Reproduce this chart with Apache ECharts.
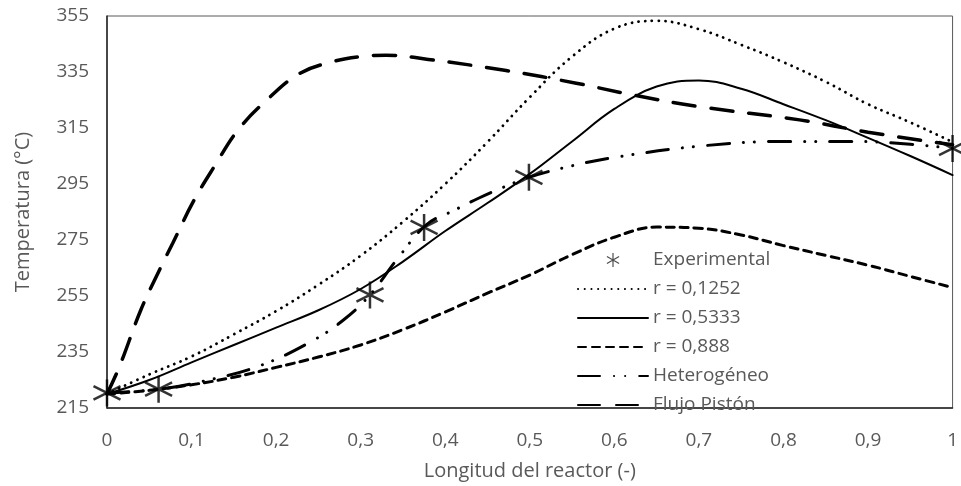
<!DOCTYPE html>
<html>
<head>
<meta charset="utf-8">
<script src="https://cdn.jsdelivr.net/npm/echarts@6/dist/echarts.min.js"></script>
<style>
  html, body { margin: 0; padding: 0; background: #fff; }
  #chart { width: 961px; height: 486px; }
</style>
</head>
<body>
<div id="chart"></div>
<script>
// datos
var expX = [0, 0.061, 0.311, 0.375, 0.499, 1];
var expT = [220.4, 221.7, 255.4, 279.5, 297.4, 307.7];

var gridX = [0, 0.05, 0.1, 0.15, 0.2, 0.25, 0.3, 0.35, 0.4, 0.45, 0.5, 0.55, 0.6, 0.65, 0.7, 0.75, 0.8, 0.85, 0.9, 0.95, 1];
var r1252T = [220, 227, 233.4, 241.3, 249.6, 259, 269.4, 281.5, 295, 310, 326, 340.5, 350.5, 353.3, 350.3, 344.7, 338.5, 331.5, 323.5, 317, 310];
var r5333T = [220, 225, 231.3, 237.5, 243.7, 249.9, 257.5, 267.3, 278.2, 288.2, 298.6, 310.2, 321.8, 329.8, 332, 329, 323.5, 317.8, 311.5, 305, 298.2];
var r888T = [220, 221.3, 223.3, 226, 229.5, 233.2, 237.5, 243, 249.3, 256, 262.5, 269.8, 276, 279.6, 279.2, 276.8, 273, 269.5, 266, 262, 258];

var heteroX = [0, 0.061, 0.12, 0.18, 0.24, 0.28, 0.311, 0.344, 0.378, 0.41, 0.44, 0.47, 0.499, 0.55, 0.6, 0.7, 0.8, 0.88, 0.95, 1];
var heteroT = [220.4, 221.7, 225, 230, 238.5, 246.5, 255.4, 268.5, 280.5, 285.5, 290, 294, 297.4, 301.5, 304.5, 308.5, 310.2, 310.2, 309.2, 307.7];

var pistonX = [0, 0.015, 0.04, 0.063, 0.078, 0.102, 0.128, 0.155, 0.189, 0.228, 0.267, 0.3, 0.33, 0.38, 0.472, 0.555, 0.622, 0.701, 0.819, 0.9, 1];
var pistonT = [220, 230, 250, 264.9, 274, 288.7, 301.8, 314.3, 325, 334.5, 338.7, 340.5, 341, 339.5, 335.5, 331, 326.8, 322.6, 317.9, 313.5, 309];

var xTicks = { min: 0, max: 1, interval: 0.1 };
var yTicks = { min: 215, max: 355, interval: 20 };

var starPath = 'path://M10,0L10,20M1.34,5L18.66,15M1.34,15L18.66,5';
var grey = '#595959';
var font = 'Open Sans';

function pairs(xs, ys) {
    var out = [];
    for (var i = 0; i < xs.length; i++) {
        out.push([xs[i], ys[i]]);
    }
    return out;
}

function lineSerie(name, xs, ys, width, dash) {
    return {
        name: name,
        type: 'line',
        data: pairs(xs, ys),
        smooth: 0.4,
        showSymbol: false,
        symbol: 'none',
        lineStyle: { color: '#000', width: width, type: dash, cap: 'round' },
        itemStyle: { color: '#000' },
        z: 2
    };
}

// la leyenda solo dibuja la linea, sin el circulo
function legendLine(name) {
    return { name: name, itemStyle: { opacity: 0 } };
}

var chart = echarts.init(document.getElementById('chart'));
chart.setOption({
    animation: false,
    backgroundColor: '#fff',
    grid: {
        left: 107, right: 8, top: 16, bottom: 78,
        show: true, borderColor: '#595959', borderWidth: 1
    },
    legend: {
        orient: 'vertical',
        left: 572, top: 245,
        itemWidth: 70, itemHeight: 14, itemGap: 9,
        textStyle: { color: grey, fontFamily: font, fontSize: 19, lineHeight: 20 },
        data: [
            { name: 'Experimental', icon: starPath, itemStyle: { color: 'none', borderColor: '#222', borderWidth: 1.2 } },
            legendLine('r = 0,1252'), legendLine('r = 0,5333'), legendLine('r = 0,888'),
            legendLine('Heterogéneo'), legendLine('Flujo Pistón')
        ]
    },
    xAxis: {
        type: 'value',
        min: xTicks.min, max: xTicks.max, interval: xTicks.interval,
        name: 'Longitud del reactor (-)',
        nameLocation: 'middle', nameGap: 53,
        nameTextStyle: { color: grey, fontFamily: font, fontSize: 20 },
        axisLine: { show: true, lineStyle: { color: '#262626', width: 1.5 } },
        axisTick: { show: false },
        splitLine: { show: false },
        axisLabel: {
            color: grey, fontFamily: font, fontSize: 19, margin: 23,
            formatter: function (v) { return String(Math.round(v * 10) / 10).replace('.', ','); }
        }
    },
    yAxis: {
        type: 'value',
        min: yTicks.min, max: yTicks.max, interval: yTicks.interval,
        name: 'Temperatura (°C)',
        nameLocation: 'middle', nameGap: 74,
        nameTextStyle: { color: grey, fontFamily: font, fontSize: 20 },
        axisLine: { show: true, lineStyle: { color: '#262626', width: 1.5 } },
        axisTick: { show: false },
        splitLine: { show: false },
        axisLabel: { color: grey, fontFamily: font, fontSize: 19, margin: 18 }
    },
    series: [
        {
            name: 'Experimental',
            type: 'scatter',
            data: pairs(expX, expT),
            symbol: starPath,
            symbolSize: 27,
            itemStyle: { color: 'none', borderColor: '#000', borderWidth: 2.5 },
            z: 5
        },
        lineSerie('r = 0,1252', gridX, r1252T, 2.8, [0.1, 6.6]),
        lineSerie('r = 0,5333', gridX, r5333T, 2, 'solid'),
        lineSerie('r = 0,888', gridX, r888T, 3, [8, 6]),
        lineSerie('Heterogéneo', heteroX, heteroT, 3, [22, 14, 0.1, 11, 0.1, 14]),
        lineSerie('Flujo Pistón', pistonX, pistonT, 3.5, [22, 16])
    ]
});
</script>
</body>
</html>
